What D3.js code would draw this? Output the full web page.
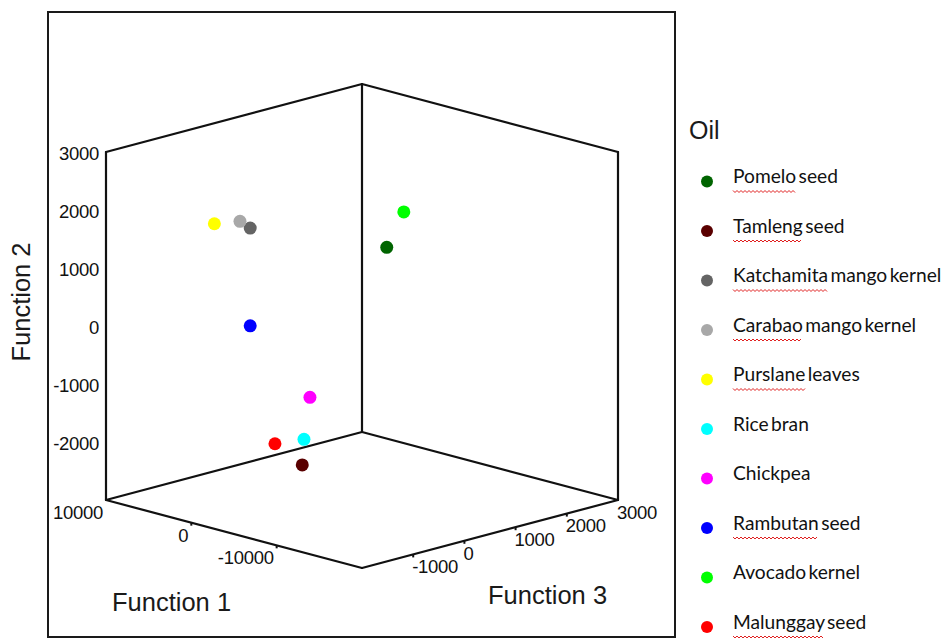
<!DOCTYPE html>
<html>
<head>
<meta charset="utf-8">
<script src="https://cdn.jsdelivr.net/npm/d3@7/dist/d3.min.js"></script>
<style>
  html, body { margin: 0; padding: 0; background: #fff; }
  svg { display: block; }
</style>
</head>
<body>
<svg id="chart" width="948" height="638"></svg>
<script>
// Discriminant function scores for each oil
const oils = ["Pomelo seed", "Tamleng seed", "Katchamita mango kernel", "Carabao mango kernel",
  "Purslane leaves", "Rice bran", "Chickpea", "Rambutan seed", "Avocado kernel", "Malunggay seed"];
const colors = ["#006400", "#5a0000", "#646464", "#a8a8a8", "#ffff00", "#00ffff", "#ff00ff", "#0000ff", "#00ff00", "#ff0000"];
const function1 = [-1900, -4000, -900, 300, 3300, -4200, -4900, 2100, -3900, -800];
const function2 = [1000, -2200, 1880, 1950, 1790, -1750, -1000, -40, 1690, -1960];
const function3 = [1500, -500, -1000, -1000, -1000, -500, -500, -500, 1500, -500];
// first words that carry a wavy underline in the legend
const flagged = [true, true, true, true, true, false, false, true, false, true];

const f1Ticks = [10000, 0, -10000];
const f2Ticks = [3000, 2000, 1000, 0, -1000, -2000];
const f3Ticks = [-1000, 0, 1000, 2000, 3000];

const svg = d3.select("#chart");

// Scales map each function onto [0,1] along its edge of the cube
const s1 = d3.scaleLinear().domain([10000, -20000]).range([0, 1]);
const s2 = d3.scaleLinear().domain([-3000, 3000]).range([0, 1]);
const s3 = d3.scaleLinear().domain([-2000, 3000]).range([0, 1]);

// Oblique projection of the cube
const origin = [106, 500];
const e1 = [256, 68], e3 = [256, -68], e2 = [0, -348];
function project(f1, f2, f3) {
  const u = s1(f1), v = s2(f2), w = s3(f3);
  return [origin[0] + u * e1[0] + w * e3[0] + v * e2[0],
          origin[1] + u * e1[1] + w * e3[1] + v * e2[1]];
}

// outer frame
svg.append("rect").attr("x", 48).attr("y", 12).attr("width", 627).attr("height", 625)
  .attr("fill", "none").attr("stroke", "#1a1a1a").attr("stroke-width", 2);

const [a1, b1] = s1.domain(), [a2, b2] = s2.domain(), [a3, b3] = s3.domain();
const L0 = project(a1, a2, a3), L1 = project(a1, b2, a3);
const B0 = project(a1, a2, b3), B1 = project(a1, b2, b3);
const R0 = project(b1, a2, b3), R1 = project(b1, b2, b3);
const F0 = project(b1, a2, a3);
const edges = [[L0, L1], [B0, B1], [R0, R1], [L1, B1], [B1, R1], [L0, B0], [B0, R0], [L0, F0], [F0, R0]];
const line = d3.line();
svg.append("g").selectAll("path").data(edges).join("path")
  .attr("d", d => line(d)).attr("fill", "none").attr("stroke", "#111").attr("stroke-width", 2.2)
  .attr("stroke-linecap", "round");

const tickFont = "'Liberation Sans', Arial, sans-serif";

// Function 2 ticks on the left vertical edge
svg.append("g").selectAll("text").data(f2Ticks).join("text")
  .attr("x", d => project(a1, d, a3)[0] - 7)
  .attr("y", d => project(a1, d, a3)[1] + 3)
  .attr("text-anchor", "end").attr("dominant-baseline", "middle")
  .attr("font-family", tickFont).attr("font-size", 18.5).attr("fill", "#111")
  .attr("letter-spacing", -0.3)
  .text(d => d);

// Function 1 ticks on the front-left floor edge
const g1 = svg.append("g");
g1.selectAll("line").data(f1Ticks.filter(d => d !== a1)).join("line")
  .attr("x1", d => project(d, a2, a3)[0]).attr("y1", d => project(d, a2, a3)[1])
  .attr("x2", d => project(d, a2, a3)[0]).attr("y2", d => project(d, a2, a3)[1] + 3)
  .attr("stroke", "#111").attr("stroke-width", 2);
g1.selectAll("text").data(f1Ticks).join("text")
  .attr("x", d => project(d, a2, a3)[0] - 3)
  .attr("y", d => project(d, a2, a3)[1] + 14)
  .attr("text-anchor", "end").attr("dominant-baseline", "middle")
  .attr("font-family", tickFont).attr("font-size", 18.5).attr("fill", "#111")
  .attr("letter-spacing", -0.3)
  .text(d => d);

// Function 3 ticks on the front-right floor edge
const g3 = svg.append("g");
g3.selectAll("line").data(f3Ticks.filter(d => d !== b3)).join("line")
  .attr("x1", d => project(b1, a2, d)[0]).attr("y1", d => project(b1, a2, d)[1])
  .attr("x2", d => project(b1, a2, d)[0]).attr("y2", d => project(b1, a2, d)[1] + 3)
  .attr("stroke", "#111").attr("stroke-width", 2);
g3.selectAll("text").data(f3Ticks).join("text")
  .attr("x", d => project(b1, a2, d)[0] - 1)
  .attr("y", d => project(b1, a2, d)[1] + 14)
  .attr("text-anchor", "start").attr("dominant-baseline", "middle")
  .attr("font-family", tickFont).attr("font-size", 18.5).attr("fill", "#111")
  .attr("letter-spacing", -0.3)
  .text(d => d);

// axis titles
const titleFont = "'Liberation Sans', Arial, sans-serif";
svg.append("text").attr("x", 112).attr("y", 604).attr("dominant-baseline", "middle")
  .attr("font-family", titleFont).attr("font-size", 25.5).attr("fill", "#1a1a1a").text("Function 1");
svg.append("text").attr("x", 488).attr("y", 597).attr("dominant-baseline", "middle")
  .attr("font-family", titleFont).attr("font-size", 25.5).attr("fill", "#1a1a1a").text("Function 3");
svg.append("text").attr("transform", "translate(23,302) rotate(-90)")
  .attr("text-anchor", "middle").attr("dominant-baseline", "middle")
  .attr("font-family", titleFont).attr("font-size", 25.5).attr("fill", "#1a1a1a").text("Function 2");

// data points
svg.append("g").selectAll("circle").data(oils).join("circle")
  .attr("cx", (d, i) => project(function1[i], function2[i], function3[i])[0])
  .attr("cy", (d, i) => project(function1[i], function2[i], function3[i])[1])
  .attr("r", 6.5)
  .attr("fill", (d, i) => colors[i]);

// legend
svg.append("text").attr("x", 689).attr("y", 132).attr("dominant-baseline", "middle")
  .attr("font-family", titleFont).attr("font-size", 25).attr("fill", "#1a1a1a").text("Oil");

const legendFont = "Lato, 'Open Sans', sans-serif";
const item = svg.append("g").selectAll("g").data(oils).join("g")
  .attr("transform", (d, i) => `translate(0,${180.5 + i * 49.5})`);
item.append("circle").attr("cx", 707).attr("cy", 1).attr("r", 6).attr("fill", (d, i) => colors[i]);
const labels = item.append("text").attr("x", 733).attr("y", -2).attr("dominant-baseline", "middle")
  .attr("font-family", legendFont).attr("font-size", 19.2).attr("fill", "#111")
  .attr("word-spacing", -2.5)
  .text(d => d);

// red wavy underline under the flagged first word
labels.each(function (d, i) {
  if (!flagged[i]) return;
  const first = d.split(" ")[0];
  const w = this.getSubStringLength(0, first.length);
  const pts = [];
  for (let x = 0; x <= w; x += 2) pts.push([733 + x, 10 + ((x / 2) % 2 === 0 ? 0 : 2)]);
  d3.select(this.parentNode).append("path")
    .attr("d", d3.line()(pts)).attr("fill", "none").attr("stroke", "#e02020").attr("stroke-width", 1);
});
</script>
</body>
</html>
